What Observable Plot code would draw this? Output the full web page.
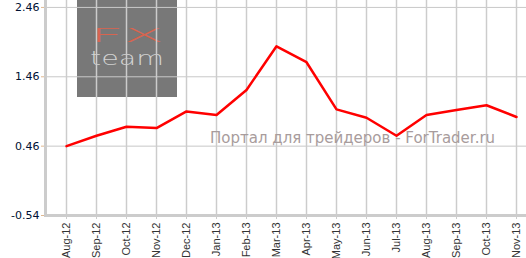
<!DOCTYPE html>
<html><head><meta charset="utf-8">
<script src="https://cdn.jsdelivr.net/npm/d3@7"></script>
<script src="https://cdn.jsdelivr.net/npm/@observablehq/plot@0.6"></script>
<style>
body{margin:0;background:#fff;}
#wrap{position:relative;width:526px;height:258px;overflow:hidden;}
#logo{position:absolute;left:77px;top:0;}
#chart{position:absolute;left:0;top:0;}
#wm{position:absolute;left:210px;top:129px;font:15px "DejaVu Sans",sans-serif;color:#a89c9c;white-space:nowrap;}
</style></head>
<body><div id="wrap">
<svg id="logo" width="100" height="97" xmlns="http://www.w3.org/2000/svg">
<rect width="100" height="97" fill="#787878"/>
<text x="13" y="42" font-family="DejaVu Sans" font-weight="200" font-size="20" textLength="74" lengthAdjust="spacingAndGlyphs" fill="#d8644f">FX</text>
<text x="13" y="65" font-family="DejaVu Sans" font-weight="200" font-size="19" textLength="74" lengthAdjust="spacingAndGlyphs" fill="#d2d2d2">team</text>
</svg>
<div id="chart"></div><div id="wm">Портал для трейдеров - ForTrader.ru</div></div>
<script>
const months = ["Aug-12","Sep-12","Oct-12","Nov-12","Dec-12","Jan-13","Feb-13","Mar-13","Apr-13","May-13","Jun-13","Jul-13","Aug-13","Sep-13","Oct-13","Nov-13"];
const values = [0.46,0.61,0.74,0.72,0.96,0.91,1.27,1.90,1.67,0.99,0.87,0.61,0.91,0.98,1.05,0.88];
const yTicks = [-0.54,0.46,1.46,2.46];
const yDomain = [-0.54, 2.56];

const data = months.map((m,i)=>({m, v: values[i]}));

const chart = Plot.plot({
  width: 526, height: 258,
  marginLeft: 45, marginRight: 0, marginTop: 0, marginBottom: 43,
  style: {background: "transparent", overflow: "visible"},
  x: {type: "point", domain: months, range: [61, 521], padding: 0, label: null},
  y: {domain: yDomain, label: null},
  marks: [
    Plot.gridY(yTicks, {stroke: "#c8c8c8", strokeOpacity: 1, strokeWidth: 1}),
    Plot.gridX(months, {stroke: "#cccccc", strokeOpacity: 1, strokeWidth: 1.5}),
    Plot.axisY(yTicks, {tickFormat: d => d.toFixed(2), tickSize: 4, tickPadding: 2, stroke: "#e0b890",
      fill: "#001133", fontSize: 11, fontFamily: "DejaVu Sans, sans-serif", label: null}),
    Plot.axisX(months, {tickRotate: -90, tickSize: 4, tickPadding: 3, stroke: "#cccccc",
      fill: "#333", fontSize: 11, fontFamily: "Liberation Sans, Arial, sans-serif", label: null}),
    Plot.ruleY([yDomain[0]], {stroke: "#cccccc", strokeWidth: 3}),
    Plot.frame({anchor: "left", stroke: "#cccccc", strokeWidth: 3}),
    Plot.line(data, {x: "m", y: "v", stroke: "#ff0000", strokeWidth: 2.5})
  ]
});
document.getElementById("chart").appendChild(chart);
</script></body></html>
